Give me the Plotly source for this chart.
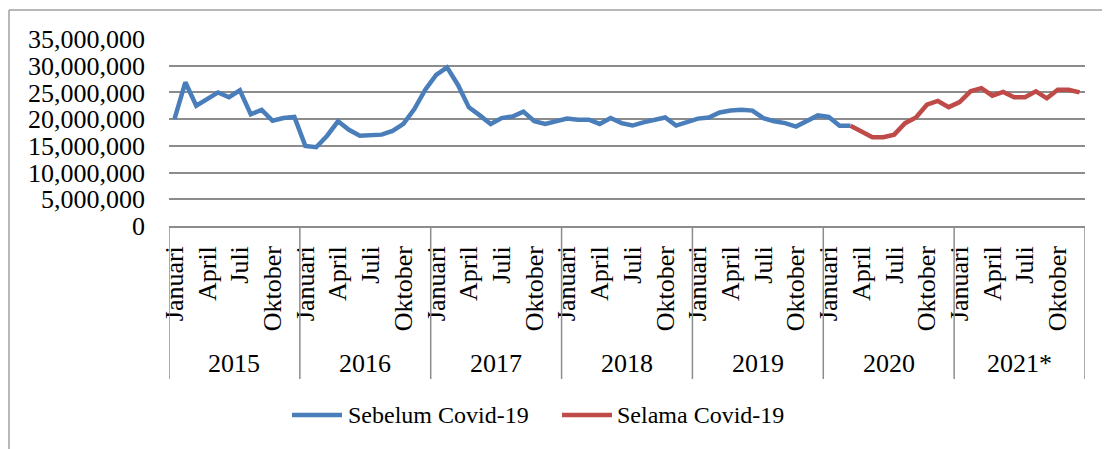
import plotly.graph_objects as go

years = ["2015", "2016", "2017", "2018", "2019", "2020", "2021*"]
months_shown = ["Januari", "April", "Juli", "Oktober"]
series_names = ["Sebelum Covid-19", "Selama Covid-19"]

# Monthly values, Jan 2015 .. Dec 2021 (84 months)
sebelum = [
    20.0, 26.9, 22.5, 23.75, 25.0, 24.1, 25.4, 20.9, 21.75, 19.7, 20.2, 20.4,   # 2015
    15.0, 14.75, 16.9, 19.6, 18.0, 16.9, 16.9, 17.1, 17.8, 19.1, 21.9, 25.5,    # 2016
    28.3, 29.7, 26.4, 22.2, 20.7, 19.1, 20.2, 20.5, 21.4, 19.6, 19.1, 19.7,     # 2017
    20.1, 19.9, 19.9, 19.1, 20.2, 19.25, 18.8, 19.4, 19.9, 20.3, 18.8, 19.4,    # 2018
    20.1, 20.3, 21.25, 21.6, 21.75, 21.6, 20.2, 19.6, 19.25, 18.6, 19.75, 20.7, # 2019
    20.4, 18.75, 18.75,                                                         # 2020 Jan-Mar
]
selama = [
    18.75, 17.7, 16.6, 16.6, 17.1, 19.25, 20.3, 22.7, 23.4, 22.25,              # 2020 Mar-Dec
    23.2, 25.2, 25.8, 24.4, 25.1, 24.1, 24.1, 25.2, 23.9, 25.5, 25.5, 25.0,     # 2021
]
sebelum_vals = [v * 1_000_000 for v in sebelum]
selama_vals = [v * 1_000_000 for v in selama]
x_sebelum = list(range(len(sebelum_vals)))
x_selama = list(range(len(sebelum_vals) - 1, len(sebelum_vals) - 1 + len(selama_vals)))

# The page body has an 8px default margin; work in page pixels and offset.
OFF = 8
PAGE_W, PAGE_H = 1110, 449
W, H = PAGE_W - OFF, PAGE_H - OFF
PLOT_L, PLOT_R, PLOT_T, PLOT_B = 169, 1085, 39, 226  # page pixels
ML, MR, MT, MB = PLOT_L - OFF, PAGE_W - PLOT_R, PLOT_T - OFF, PAGE_H - PLOT_B
PW, PH = PLOT_R - PLOT_L, PLOT_B - PLOT_T

def px_x(px):
    return (px - PLOT_L) / PW

def px_y(py):
    return (PLOT_B - py) / PH

FONT = "Liberation Serif"
BLUE = "#4A7EBB"
RED = "#BE4B48"
GRID = "#8C8C8C"

fig = go.Figure()
fig.add_trace(go.Scatter(x=x_sebelum, y=sebelum_vals, mode="lines", name=series_names[0],
                         line=dict(color=BLUE, width=4.5), showlegend=False))
fig.add_trace(go.Scatter(x=x_selama, y=selama_vals, mode="lines", name=series_names[1],
                         line=dict(color=RED, width=4.5), showlegend=False))

n_months = 12 * len(years)
tickvals = [12 * y + m * 3 for y in range(len(years)) for m in range(4)]
ticktext = [months_shown[m] for y in range(len(years)) for m in range(4)]

shapes = []
for k in range(len(years) + 1):
    shapes.append(dict(type="line", xref="x", yref="paper", x0=12 * k - 0.5, x1=12 * k - 0.5,
                       y0=0, y1=px_y(379), line=dict(color=GRID, width=1.5)))
# outer chart border (left and top)
shapes.append(dict(type="line", xref="paper", yref="paper",
                   x0=px_x(9), x1=px_x(9), y0=px_y(10), y1=px_y(449),
                   line=dict(color="#A0A0A0", width=1.5)))
shapes.append(dict(type="line", xref="paper", yref="paper",
                   x0=px_x(9), x1=px_x(1110), y0=px_y(10), y1=px_y(10),
                   line=dict(color="#A0A0A0", width=1.5)))

annotations = []
for k, yr in enumerate(years):
    annotations.append(dict(x=12 * k + 5.5, y=px_y(363), xref="x", yref="paper",
                            text=yr, showarrow=False, xanchor="center", yanchor="middle",
                            font=dict(family=FONT, size=26, color="black")))

# legend (drawn as line samples + text)
legend_items = [(series_names[0], BLUE, 292, 342, 346), (series_names[1], RED, 562, 612, 615)]
LEG_Y = 415
for name, col, lx0, lx1, tx in legend_items:
    shapes.append(dict(type="line", xref="paper", yref="paper", x0=px_x(lx0), x1=px_x(lx1),
                       y0=px_y(LEG_Y), y1=px_y(LEG_Y), line=dict(color=col, width=4.5)))
    annotations.append(dict(x=px_x(tx), y=px_y(LEG_Y), xref="paper", yref="paper", text=name,
                            showarrow=False, xanchor="left", yanchor="middle",
                            font=dict(family=FONT, size=24, color="black")))

fig.update_layout(
    width=W, height=H,
    margin=dict(l=ML, r=MR, t=MT, b=MB, autoexpand=False),
    paper_bgcolor="white", plot_bgcolor="white",
    font=dict(family=FONT, size=26, color="black"),
    showlegend=False,
    shapes=shapes,
    annotations=annotations,
)
fig.update_xaxes(range=[-0.5, n_months - 0.5], tickmode="array", tickvals=tickvals, ticktext=ticktext,
                 tickangle=-90, showgrid=False, zeroline=False, showline=True, linecolor=GRID, linewidth=1.5,
                 ticks="", ticklabelstandoff=8, automargin=False,
                 tickfont=dict(family=FONT, size=26, color="black"))
fig.update_yaxes(range=[0, 35_000_000], tickmode="linear", tick0=0, dtick=5_000_000, tickformat=",d",
                 showgrid=True, gridcolor=GRID, gridwidth=1.5, zeroline=False, showline=False,
                 ticks="", ticklabelstandoff=23, automargin=False,
                 tickfont=dict(family=FONT, size=26, color="black"))

fig.write_html("out.html")
